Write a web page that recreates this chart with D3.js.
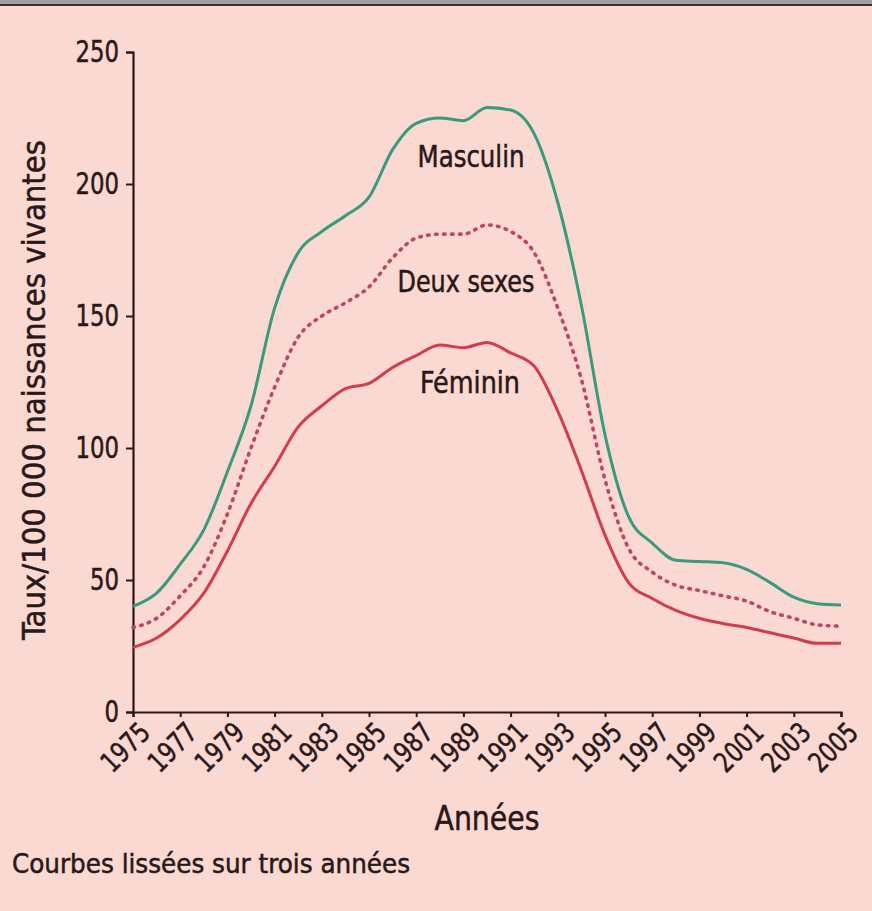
<!DOCTYPE html>
<html>
<head>
<meta charset="utf-8">
<script src="https://cdn.jsdelivr.net/npm/d3@7"></script>
<style>
  html, body { margin: 0; padding: 0; background: #fad9d3; }
  #container { width: 872px; height: 911px; }
  text { font-family: "Liberation Sans Narrow", "DejaVu Sans Condensed", "Roboto", sans-serif;
         fill: #2a1818; stroke: #2a1818; stroke-width: 0.5px; }
</style>
</head>
<body>
<div id="container"></div>
<script>
// taux / 100 000 naissances vivantes, courbes lissees sur trois annees
const years = [1975, 1976, 1977, 1978, 1979, 1980, 1981, 1982, 1983, 1984,
               1985, 1986, 1987, 1988, 1989, 1990, 1991, 1992, 1993, 1994,
               1995, 1996, 1997, 1998, 1999, 2000, 2001, 2002, 2003, 2004, 2005];

const masculin = [40, 45, 56, 69, 91, 116, 153, 174, 182, 188,
                  195, 213, 223, 225, 224, 229, 228, 219, 193, 154,
                  105, 74, 64, 57.5, 57, 56.5, 54, 49, 43.5, 41, 40.5];

const deux_sexes = [32, 35.5, 44, 55, 75, 100, 123, 142, 150, 155,
                    161, 172, 179.5, 181, 181, 184.5, 182, 174, 153, 126,
                    88, 62, 53, 48, 46, 44, 42, 38, 35.5, 33, 32.5];

const feminin = [24.5, 28, 35, 45, 61, 79, 93, 108, 116, 122.5,
                 124.5, 130.5, 135, 139, 138, 140, 136, 131, 114, 91.5,
                 67, 49, 43, 38.5, 35.5, 33.5, 32, 30, 28, 26, 26];

const y_ticks = [0, 50, 100, 150, 200, 250];
const x_ticks = [1975, 1977, 1979, 1981, 1983, 1985, 1987, 1989, 1991,
                 1993, 1995, 1997, 1999, 2001, 2003, 2005];

const series = [
    {name: "Masculin", values: masculin, color: "#3a9a7c", dash: null,
     label_x: 471, label_y: 167, label_w: 107},
    {name: "Deux sexes", values: deux_sexes, color: "#c04560", dash: "1.5,6.5",
     label_x: 466, label_y: 292, label_w: 137},
    {name: "Féminin", values: feminin, color: "#d33c4b", dash: null,
     label_x: 470, label_y: 393, label_w: 100}
];

var width = 872, height = 911;
var m_left = 133, m_right = 841, m_top = 52, m_bottom = 712;

var svg = d3.select("#container").append("svg")
    .attr("width", width)
    .attr("height", height);

svg.append("rect")
    .attr("width", width).attr("height", height)
    .attr("fill", "#fad9d3");

// grey band on top of the page
svg.append("rect")
    .attr("x", 0).attr("y", 0)
    .attr("width", width).attr("height", 4)
    .attr("fill", "#9e9e9e");
svg.append("rect")
    .attr("x", 0).attr("y", 4)
    .attr("width", width).attr("height", 2)
    .attr("fill", "#3a3030");

var x = d3.scaleLinear().domain([1975, 2005]).range([m_left, m_right]);
var y = d3.scaleLinear().domain([0, 250]).range([m_bottom, m_top]);

// y axis
var yAxis = svg.append("g")
    .attr("transform", "translate(" + m_left + ",0)")
    .call(d3.axisLeft(y).tickValues(y_ticks).tickSize(7).tickPadding(7));

// x axis
var xAxis = svg.append("g")
    .attr("transform", "translate(0," + m_bottom + ")")
    .call(d3.axisBottom(x).tickValues(x_ticks).tickFormat(d3.format("d"))
          .tickSize(5).tickPadding(4));

[yAxis, xAxis].forEach(function(a){
    a.select(".domain").attr("stroke", "#2a1818").attr("stroke-width", 2.2);
    a.selectAll(".tick line").attr("stroke", "#2a1818").attr("stroke-width", 2);
    a.selectAll("text").style("font-family", null).attr("fill", "#2a1818");
});

yAxis.selectAll("text")
    .attr("font-size", 30)
    .attr("textLength", function(d){ return String(d).length * 14.5; })
    .attr("lengthAdjust", "spacingAndGlyphs");

xAxis.selectAll("text")
    .attr("font-size", 28)
    .attr("text-anchor", "end")
    .attr("dy", "0.35em")
    .attr("textLength", 56)
    .attr("lengthAdjust", "spacingAndGlyphs")
    .attr("transform", "translate(5,9) rotate(-45)");

// lines
var line = d3.line()
    .x(function(d, i){ return x(years[i]); })
    .y(function(d){ return y(d); })
    .curve(d3.curveMonotoneX);

series.forEach(function(s){
    svg.append("path")
        .datum(s.values)
        .attr("fill", "none")
        .attr("stroke", s.color)
        .attr("stroke-width", s.dash ? 3.6 : 3)
        .attr("stroke-linecap", s.dash ? "round" : "butt")
        .attr("stroke-linejoin", "round")
        .attr("stroke-dasharray", s.dash)
        .attr("d", line);

    svg.append("text")
        .attr("x", s.label_x)
        .attr("y", s.label_y)
        .attr("text-anchor", "middle")
        .attr("font-size", 30)
        .attr("textLength", s.label_w)
        .attr("lengthAdjust", "spacingAndGlyphs")
        .text(s.name);
});

// axis titles
svg.append("text")
    .attr("transform", "translate(45,390) rotate(-90)")
    .attr("text-anchor", "middle")
    .attr("font-size", 32)
    .attr("textLength", 500)
    .attr("lengthAdjust", "spacingAndGlyphs")
    .text("Taux/100 000 naissances vivantes");

svg.append("text")
    .attr("x", 487)
    .attr("y", 830)
    .attr("text-anchor", "middle")
    .attr("font-size", 34)
    .attr("textLength", 105)
    .attr("lengthAdjust", "spacingAndGlyphs")
    .text("Années");

svg.append("text")
    .attr("x", 12)
    .attr("y", 873)
    .attr("font-size", 27)
    .attr("textLength", 398)
    .attr("lengthAdjust", "spacingAndGlyphs")
    .text("Courbes lissées sur trois années");
</script>
</body>
</html>
